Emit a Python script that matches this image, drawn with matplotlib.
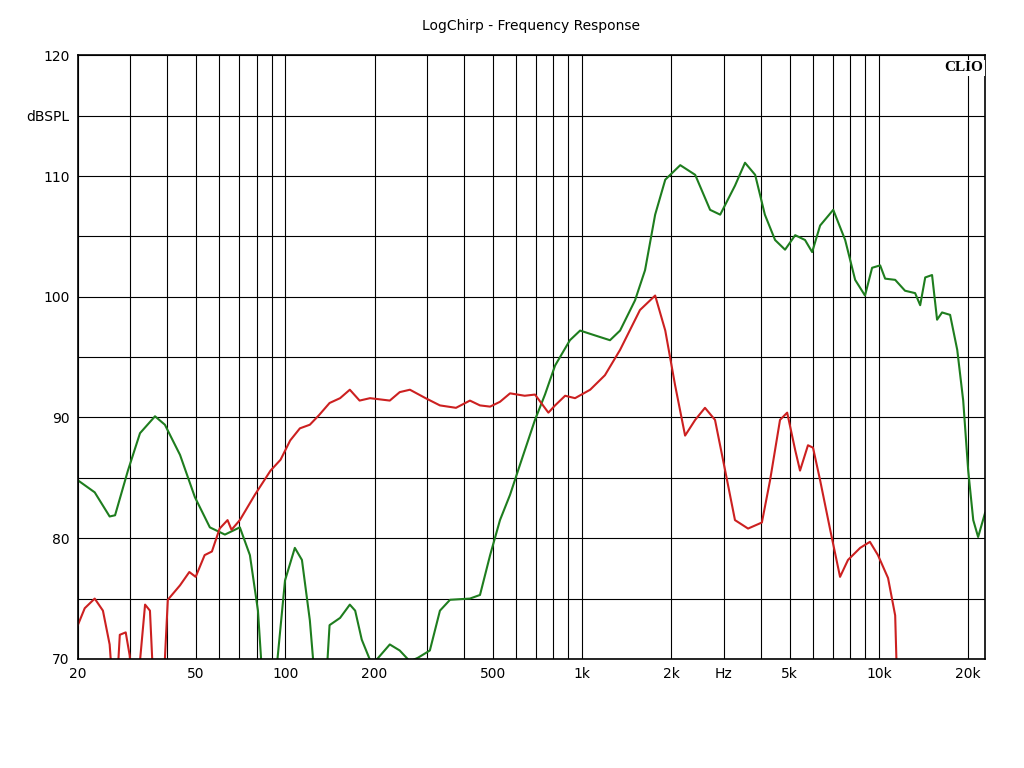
import matplotlib
matplotlib.use("Agg")
import matplotlib.pyplot as plt
import numpy as np

green_f = [20,22.8,25.6,26.7,29.5,32.4,36.4,39.3,44.2,49.6,55.7,62.6,70.3,76,80.9,83.4,90,99.8,107.7,113.8,121,126,135,141,153,165,172,181,196,
           225,243,263,280,307,332,359,419,453,490,529,572,618,694,750,811,910,985,1105,1242,1343,1508,1630,1763,1907,2142,2405,2700,2920,3275,3540,3830,
           4130,4470,4830,5225,5640,5960,6340,7020,7700,8320,8980,9490,10100,10500,11350,12250,13250,13780,14330,15110,15710,16330,17380,18370,19240,20000,20800,21600,22800]
green_db = [84.8,83.8,81.8,81.9,85.6,88.7,90.1,89.4,86.9,83.4,80.9,80.3,80.9,78.6,74.0,69.0,65,76.5,79.2,78.2,73.2,68,65,72.8,73.4,74.5,74.0,71.6,69.5,
            71.2,70.7,69.8,70.1,70.7,74.0,74.9,75.0,75.3,78.6,81.5,83.6,86.1,89.8,91.9,94.3,96.4,97.2,96.8,96.4,97.2,99.7,102.2,106.8,109.7,110.9,110.1,107.2,106.8,109.2,111.1,110.1,
            106.8,104.7,103.9,105.1,104.7,103.7,105.9,107.2,104.7,101.4,100.1,102.4,102.6,101.5,101.4,100.5,100.3,99.3,101.6,101.8,98.1,98.7,98.5,95.6,91.4,85.6,81.5,80.1,82.1]

red_f = [20,21.1,22.8,24.3,25.6,26.7,27.7,29.0,29.9,31.1,33.7,35.0,36.4,38.4,40.2,44.2,47.5,49.9,53.5,56.6,60.1,63.9,65.9,70.3,79,89.2,96.4,103.9,112,121,130,141,153,165,178,193,
         225,243,263,297,332,376,419,453,490,529,572,641,694,770,811,877,947,1065,1194,1343,1567,1763,1907,2057,2224,2405,2595,2805,3035,3275,3625,4035,4300,4645,4910,5225,5425,5770,6000,6340,6855,7400,7870,8650,9330,9930,10740,11350,11610]
red_db = [72.8,74.2,75.0,74.0,71.2,65,72.0,72.2,70.3,65,74.5,74.0,65,65,74.9,76.1,77.2,76.8,78.6,78.9,80.8,81.5,80.7,81.5,83.6,85.6,86.5,88.1,89.1,89.4,90.2,91.2,91.6,92.3,91.4,91.6,
          91.4,92.1,92.3,91.6,91.0,90.8,91.4,91.0,90.9,91.3,92.0,91.8,91.9,90.4,91.0,91.8,91.6,92.3,93.5,95.6,98.9,100.1,97.2,92.7,88.5,89.8,90.8,89.8,85.6,81.5,80.8,81.3,84.8,89.8,90.4,87.3,85.6,87.7,87.5,84.8,80.7,76.8,78.2,79.2,79.7,78.6,76.7,73.6,65]

major_ticks = [20,50,100,200,500,1000,2000,3000,5000,10000,20000]
major_labels = ['20','50','100','200','500','1k','2k','Hz','5k','10k','20k']
y_ticks = [70,75,80,85,90,95,100,105,110,115,120]
y_labels = ['70','','80','','90','','100','','110','dBSPL','120']

fig = plt.figure(figsize=(10.24,7.68), dpi=100)
ax = fig.add_axes([0.076,0.142,0.886,0.786])
ax.plot(green_f, green_db, color='#1e7d1e', lw=1.5)
ax.plot(red_f, red_db, color='#cc2020', lw=1.5)
ax.set_xscale('log')
ax.set_xlim(20, 22800)
ax.set_ylim(70, 120)
minor = [m*10**e for e in range(1,5) for m in range(1,10) if 20 <= m*10**e <= 22800]
ax.set_xticks(minor, minor=True)
ax.set_xticks(major_ticks)
ax.set_xticklabels(major_labels, fontsize=10)
ax.xaxis.set_minor_formatter(matplotlib.ticker.NullFormatter())
ax.set_yticks(y_ticks)
ax.set_yticklabels(y_labels, fontsize=10)
ax.tick_params(which='both', length=0, pad=6)
ax.grid(True, which='both', color='black', lw=0.8)
for s in ax.spines.values():
    s.set_linewidth(1.2)
ax.set_title('LogChirp - Frequency Response', fontsize=10, pad=18)
ax.text(0.998, 0.99, 'CLIO', transform=ax.transAxes, ha='right', va='top',
        fontsize=11, fontweight='bold', family='Liberation Serif',
        bbox=dict(facecolor='white', edgecolor='none', pad=1))
fig.savefig('out.png', dpi=100)
